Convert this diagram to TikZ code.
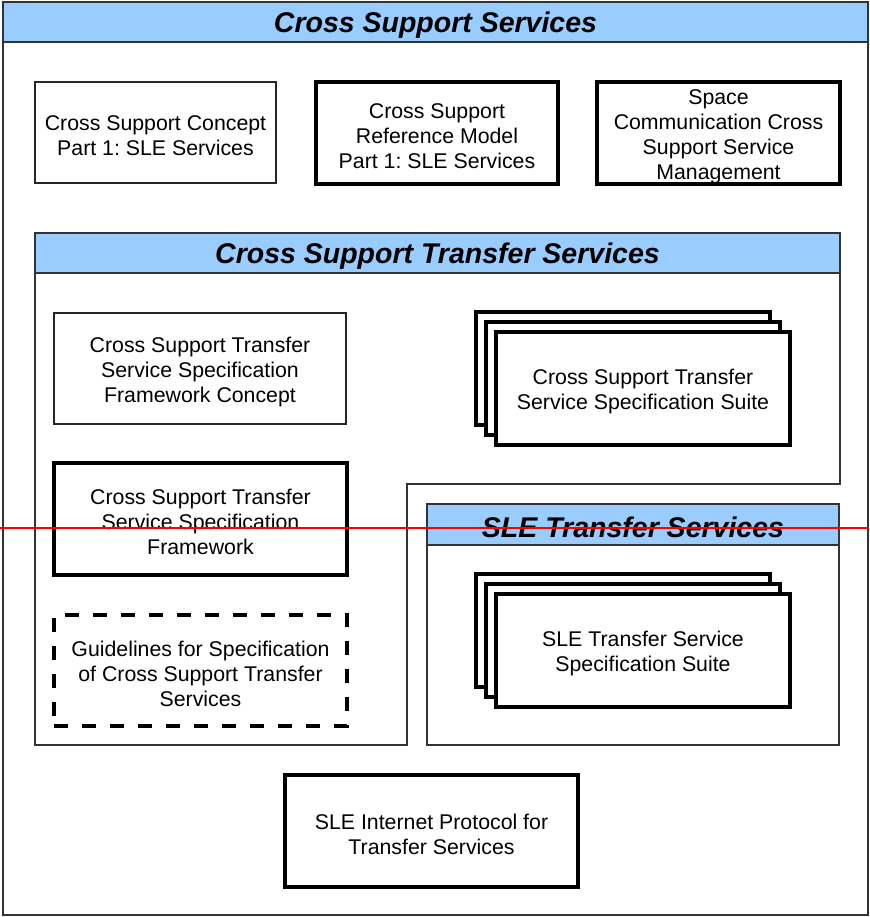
\documentclass[tikz,border=0pt]{standalone}
\usepackage{fontspec}
\setmainfont{Liberation Sans}
\frenchspacing
\definecolor{skyb}{HTML}{99CCFF}
\newcommand\bodystrut{\rule{0pt}{21.8pt}}
\newcommand\titlestrut{\rule{0pt}{26.8pt}}
\begin{document}
\begin{tikzpicture}[x=1pt,y=-1pt,
  base/.style={rectangle,inner sep=0pt,align=center,fill=white,
    font=\fontsize{21.3}{25}\selectfont\frenchspacing},
  thinbox/.style={base,draw=black!85,line width=1.2pt},
  thickbox/.style={base,draw=black,line width=3.5pt},
  dashbox/.style={base,draw=black,line width=3.5pt,dash pattern=on 14pt off 14pt},
  titlebar/.style={rectangle,inner sep=0pt,draw=black!80,fill=skyb,line width=1.2pt,
    font=\bfseries\itshape\fontsize{28.5}{30}\selectfont},
  frameline/.style={draw=black!80,line width=1.2pt}
]
\useasboundingbox (0,0) rectangle (869,917);
% outer frame
\draw[frameline] (3,2) rectangle (868,915);
\node[titlebar,minimum width=865pt,minimum height=40pt] (t0) at (435.5,22) {\titlestrut Cross Support Services};
% top row
\node[thinbox,minimum width=241pt,minimum height=101pt] (b1) at (155.5,132.5) {\bodystrut Cross Support Concept\\Part 1: SLE Services};
\node[thickbox,minimum width=242pt,minimum height=102pt] (b2) at (437,133) {\bodystrut Cross Support\\Reference Model\\Part 1: SLE Services};
\node[thickbox,minimum width=243pt,minimum height=102pt] (b3) at (718.5,133) {\bodystrut Space\\Communication Cross\\Support Service\\Management};
% CSTS container
\draw[frameline] (35,233) -- (35,745) -- (407,745) -- (407,484) -- (840,484) -- (840,233) -- cycle;
\node[titlebar,minimum width=805pt,minimum height=40pt] (t1) at (437.5,253) {\titlestrut Cross Support Transfer Services};
\node[thinbox,minimum width=292pt,minimum height=111pt] (fc) at (200,368.5) {\bodystrut Cross Support Transfer\\Service Specification\\Framework Concept};
\node[thickbox,minimum width=293pt,minimum height=112pt] (fw) at (200.5,519) {\bodystrut Cross Support Transfer\\Service Specification\\Framework};
\node[dashbox,minimum width=293pt,minimum height=111pt] (gl) at (200.5,670.5) {\bodystrut Guidelines for Specification\\of Cross Support Transfer\\Services};
\node[thickbox,minimum width=294pt,minimum height=113pt] (s1c) at (623,368.5) {};
\node[thickbox,minimum width=294pt,minimum height=113pt] (s1b) at (633,378.5) {};
\node[thickbox,minimum width=294pt,minimum height=113pt] (s1a) at (643,388.5) {\bodystrut Cross Support Transfer\\Service Specification Suite};
% SLE transfer services
\draw[frameline] (427,504) rectangle (839,745);
\node[titlebar,minimum width=412pt,minimum height=41pt] (t2) at (633,524.5) {\titlestrut SLE Transfer Services};
\node[thickbox,minimum width=294pt,minimum height=113pt] (s2c) at (623,630.5) {};
\node[thickbox,minimum width=294pt,minimum height=113pt] (s2b) at (633,640.5) {};
\node[thickbox,minimum width=294pt,minimum height=113pt] (s2a) at (643,650.5) {\bodystrut SLE Transfer Service\\Specification Suite};
% bottom
\node[thickbox,minimum width=293pt,minimum height=112pt] (ip) at (431.5,831) {\bodystrut SLE Internet Protocol for\\Transfer Services};
% red line
\coordinate (rl) at (0,528);
\coordinate (rr) at (869,528);
\draw[red,line width=1.5pt] (rl) -- (rr);
\end{tikzpicture}
\end{document}
